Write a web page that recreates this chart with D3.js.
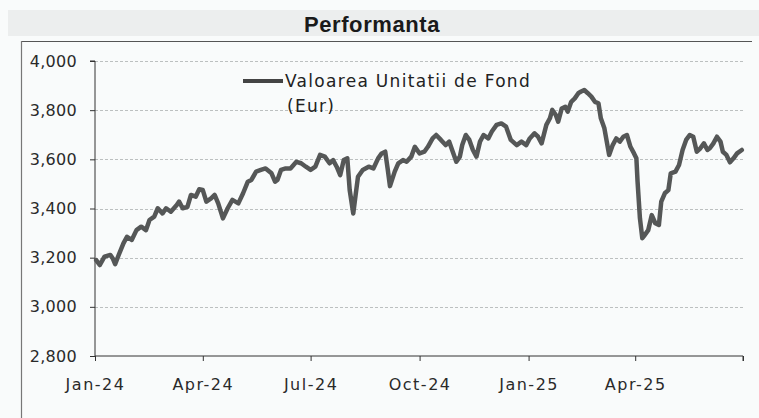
<!DOCTYPE html>
<html>
<head>
<meta charset="utf-8">
<script src="https://cdn.jsdelivr.net/npm/d3@7"></script>
<style>
    html, body { margin: 0; padding: 0; background: #f9fbfb; }
    #chart { width: 759px; height: 418px; }
    .axis text { font-family: "DejaVu Sans", sans-serif; font-size: 16px; fill: #2a2a2a; }
    .axis path, .axis line { stroke: #333; }
</style>
</head>
<body>
<div id="chart"></div>
<script>
// Fund unit value (EUR)
const dates = [
    '2024-01-02', '2024-01-05', '2024-01-09', '2024-01-14', '2024-01-16', '2024-01-18', '2024-01-21', '2024-01-25',
    '2024-01-28', '2024-02-01', '2024-02-05', '2024-02-09', '2024-02-13', '2024-02-16', '2024-02-20', '2024-02-23',
    '2024-02-27', '2024-03-01', '2024-03-05', '2024-03-10', '2024-03-12', '2024-03-15', '2024-03-19', '2024-03-22',
    '2024-03-26', '2024-03-29', '2024-04-01', '2024-04-04', '2024-04-08', '2024-04-11', '2024-04-14', '2024-04-18',
    '2024-04-22', '2024-04-26', '2024-05-01', '2024-05-05', '2024-05-09', '2024-05-12', '2024-05-16', '2024-05-20',
    '2024-05-24', '2024-05-29', '2024-06-01', '2024-06-03', '2024-06-06', '2024-06-10', '2024-06-14', '2024-06-19',
    '2024-06-23', '2024-06-27', '2024-07-01', '2024-07-05', '2024-07-09', '2024-07-13', '2024-07-17', '2024-07-20',
    '2024-07-23', '2024-07-26', '2024-07-29', '2024-08-01', '2024-08-03', '2024-08-06', '2024-08-08', '2024-08-10',
    '2024-08-14', '2024-08-19', '2024-08-23', '2024-08-27', '2024-08-30', '2024-09-02', '2024-09-04', '2024-09-06',
    '2024-09-10', '2024-09-13', '2024-09-17', '2024-09-20', '2024-09-24', '2024-09-27', '2024-10-01', '2024-10-05',
    '2024-10-08', '2024-10-12', '2024-10-15', '2024-10-19', '2024-10-23', '2024-10-26', '2024-10-29', '2024-11-01',
    '2024-11-04', '2024-11-06', '2024-11-09', '2024-11-12', '2024-11-15', '2024-11-18', '2024-11-21', '2024-11-24',
    '2024-11-28', '2024-12-01', '2024-12-05', '2024-12-09', '2024-12-13', '2024-12-17', '2024-12-22', '2024-12-26',
    '2024-12-30', '2025-01-02', '2025-01-06', '2025-01-09', '2025-01-12', '2025-01-16', '2025-01-19', '2025-01-21',
    '2025-01-24', '2025-01-26', '2025-01-29', '2025-02-01', '2025-02-03', '2025-02-06', '2025-02-09', '2025-02-12',
    '2025-02-14', '2025-02-17', '2025-02-20', '2025-02-23', '2025-02-26', '2025-03-01', '2025-03-03', '2025-03-06',
    '2025-03-08', '2025-03-10', '2025-03-13', '2025-03-16', '2025-03-19', '2025-03-22', '2025-03-25', '2025-03-28',
    '2025-03-31', '2025-04-02', '2025-04-03', '2025-04-05', '2025-04-07', '2025-04-09', '2025-04-12', '2025-04-15',
    '2025-04-18', '2025-04-21', '2025-04-23', '2025-04-26', '2025-04-29', '2025-05-01', '2025-05-05', '2025-05-08',
    '2025-05-11', '2025-05-14', '2025-05-17', '2025-05-20', '2025-05-23', '2025-05-26', '2025-05-29', '2025-06-01',
    '2025-06-03', '2025-06-06', '2025-06-09', '2025-06-12', '2025-06-14', '2025-06-17', '2025-06-20', '2025-06-23',
    '2025-06-26', '2025-06-30'
];

const values = [
    3190, 3170, 3204, 3211, 3197, 3174, 3211, 3258,
    3285, 3272, 3312, 3326, 3312, 3353, 3367, 3401,
    3380, 3401, 3387, 3414, 3428, 3401, 3407, 3455,
    3448, 3478, 3475, 3428, 3441, 3455, 3421, 3360,
    3401, 3435, 3421, 3462, 3509, 3516, 3550, 3557,
    3563, 3543, 3509, 3516, 3557, 3563, 3563, 3590,
    3584, 3570, 3557, 3570, 3618, 3611, 3584, 3597,
    3570, 3536, 3597, 3604, 3475, 3380, 3455, 3529,
    3557, 3570, 3563, 3604, 3624, 3631, 3563, 3491,
    3550, 3584, 3597, 3590, 3611, 3651, 3624, 3631,
    3651, 3685, 3699, 3679, 3658, 3672, 3631, 3590,
    3611, 3658, 3699, 3679, 3638, 3611, 3672, 3699,
    3685, 3713, 3740, 3746, 3733, 3679, 3658, 3672,
    3658, 3685, 3706, 3692, 3665, 3740, 3767, 3801,
    3780, 3753, 3807, 3814, 3794, 3834, 3848, 3869,
    3875, 3882, 3869, 3855, 3834, 3828, 3767, 3726,
    3672, 3618, 3658, 3685, 3672, 3692, 3699, 3651,
    3624, 3604, 3509, 3360, 3279, 3292, 3312, 3373,
    3340, 3333, 3428, 3462, 3475, 3543, 3550, 3577,
    3638, 3679, 3699, 3692, 3631, 3645, 3665, 3638,
    3645, 3665, 3692, 3672, 3631, 3618, 3588, 3604,
    3624, 3638
];

const yTicks = [2800, 3000, 3200, 3400, 3600, 3800, 4000];
const xTickDates = ['2024-01-01', '2024-04-01', '2024-07-01', '2024-10-01', '2025-01-01', '2025-04-01', '2025-07-01'];

const title = 'Performanta';
const legendLines = ['Valoarea Unitatii de Fond', '(Eur)'];

const W = 759, H = 418;
const margin = { top: 61, right: 16, bottom: 62, left: 95 };
const width = W - margin.left - margin.right;
const height = H - margin.top - margin.bottom;

const parse = d3.timeParse('%Y-%m-%d');
const data = dates.map((d, i) => ({ date: parse(d), value: values[i] }));

const svg = d3.select('#chart').append('svg')
    .attr('width', W)
    .attr('height', H);

// header band + frame
svg.append('rect')
    .attr('x', 8).attr('y', 10)
    .attr('width', W - 8).attr('height', 26)
    .attr('fill', '#eceeee');

svg.append('line')
    .attr('x1', 21).attr('x2', 752)
    .attr('y1', 41.5).attr('y2', 41.5)
    .attr('stroke', '#555').attr('stroke-width', 1.2);

svg.append('line')
    .attr('x1', 21.5).attr('x2', 21.5)
    .attr('y1', 41).attr('y2', H)
    .attr('stroke', '#777').attr('stroke-width', 1.2);

svg.append('text')
    .attr('x', 372)
    .attr('y', 32)
    .attr('text-anchor', 'middle')
    .style('font-family', '"Liberation Sans", Arial, sans-serif')
    .style('font-weight', 'bold')
    .style('font-size', '22px')
    .style('letter-spacing', '0.6px')
    .style('fill', '#1a1a1a')
    .text(title);

const g = svg.append('g')
    .attr('transform', `translate(${margin.left},${margin.top})`);

// Scales
const x = d3.scaleTime()
    .domain([parse(xTickDates[0]), parse(xTickDates[xTickDates.length - 1])])
    .range([0, width]);

const y = d3.scaleLinear()
    .domain([2800, 4000])
    .range([height, 0]);

// Gridlines
g.append('g')
    .selectAll('line')
    .data(yTicks.filter(t => t > 2800))
    .enter()
    .append('line')
    .attr('x1', 0).attr('x2', width)
    .attr('y1', d => Math.round(y(d)) + 0.5)
    .attr('y2', d => Math.round(y(d)) + 0.5)
    .attr('stroke', '#bcc0c0')
    .attr('stroke-dasharray', '3,2');

// Axes
const xAxis = d3.axisBottom(x)
    .tickValues(xTickDates.map(parse))
    .tickSize(5)
    .tickPadding(18)
    .tickFormat((d, i) => i === xTickDates.length - 1 ? '' : d3.timeFormat('%b-%y')(d));

const yAxis = d3.axisLeft(y)
    .tickValues(yTicks)
    .tickSize(5)
    .tickPadding(13)
    .tickFormat(d3.format(','));

g.append('g')
    .attr('class', 'axis')
    .attr('transform', `translate(0,${height})`)
    .call(xAxis)
    .call(a => a.select('.domain').attr('d', `M0,0H${width}V5`))
    .call(a => a.selectAll('text').style('letter-spacing', '1.5px'));

g.append('g')
    .attr('class', 'axis')
    .call(yAxis)
    .call(a => a.select('.domain').attr('d', `M-5,0H0V${height}`))
    .call(a => a.selectAll('text').style('letter-spacing', '0.3px'));

// Line
const line = d3.line()
    .x(d => x(d.date))
    .y(d => y(d.value))
    .curve(d3.curveLinear);

g.append('path')
    .datum(data)
    .attr('fill', 'none')
    .attr('stroke', '#555757')
    .attr('stroke-width', 4.5)
    .attr('stroke-linejoin', 'round')
    .attr('stroke-linecap', 'round')
    .attr('d', line);

// Legend
const legend = g.append('g')
    .attr('transform', 'translate(148,20)');

legend.append('line')
    .attr('x1', 0).attr('x2', 40)
    .attr('y1', 0).attr('y2', 0)
    .attr('stroke', '#444')
    .attr('stroke-width', 4);

legend.selectAll('text')
    .data(legendLines)
    .enter()
    .append('text')
    .attr('x', d => d === legendLines[0] ? 42 : 44)
    .attr('y', (d, i) => 6 + i * 25)
    .style('font-family', '"DejaVu Sans", sans-serif')
    .style('font-size', '17px')
    .style('letter-spacing', '1.3px')
    .style('fill', '#222')
    .text(d => d);
</script>
</body>
</html>
